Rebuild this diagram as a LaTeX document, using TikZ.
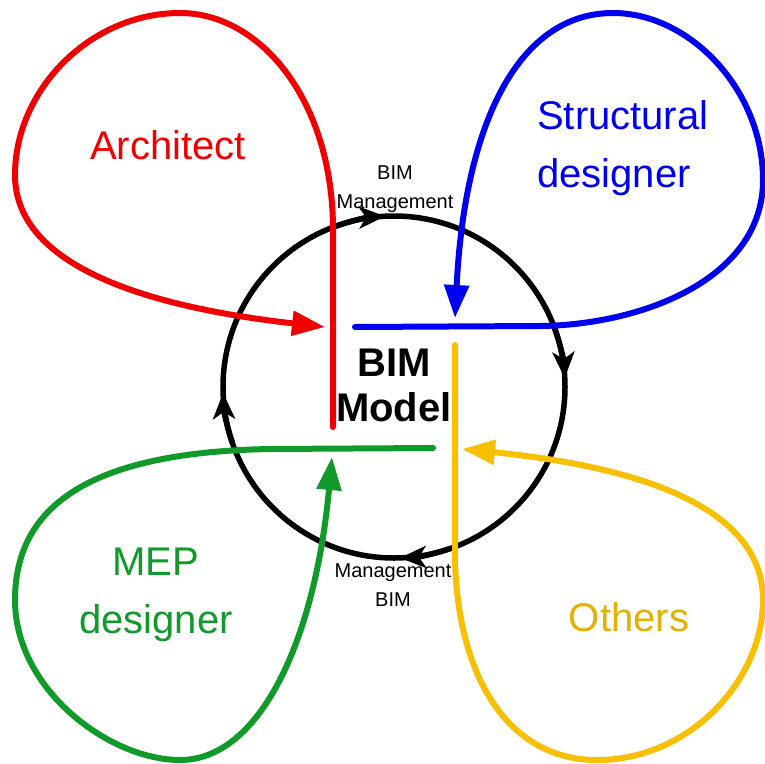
\documentclass[tikz,border=0pt]{standalone}
\usepackage{fontspec}
\setmainfont{Liberation Sans}
\usetikzlibrary{arrows.meta}
\definecolor{cred}{HTML}{F00000}
\definecolor{cblue}{HTML}{0000F0}
\definecolor{cgreen}{HTML}{109A2A}
\definecolor{cyel}{HTML}{F8C000}
\begin{document}
\begin{tikzpicture}[x=1pt,y=-1pt,
  loopline/.style={line width=6pt,line cap=round,-{Triangle[length=33pt,width=24pt]}},
  cyc/.style={line width=5.5pt,-{Stealth[length=26pt,width=22pt,inset=7pt]}},
  biglbl/.style={font=\fontsize{40}{58}\selectfont,inner sep=0pt},
  smalllbl/.style={font=\fontsize{20}{29}\selectfont,inner sep=0pt,align=center}]
\useasboundingbox (0,0) rectangle (765,763);
\fill[white] (0,0) rectangle (765,763);
\coordinate (c) at (394,387);
% cycle circle
\draw[line width=5.5pt] (c) circle (171);
\draw[cyc] ([shift={(250:171)}]c) arc[start angle=250, end angle=267, radius=171];
\draw[cyc] ([shift={(340:171)}]c) arc[start angle=340, end angle=357, radius=171];
\draw[cyc] ([shift={(71:171)}]c) arc[start angle=71, end angle=88, radius=171];
\draw[cyc] ([shift={(161:171)}]c) arc[start angle=161, end angle=178, radius=171];
% Architect (red)
\coordinate (rB) at (333,427);
\coordinate (rT) at (325,327);
\draw[loopline,cred] (rB) -- (333,230) .. controls (333,100) and (260,13) .. (180,13)
  .. controls (90,13) and (15,90) .. (15,175)
  .. controls (15,260) and (130,305) .. (rT);
% Structural (blue)
\coordinate (bS) at (355,327);
\coordinate (bT) at (455,318);
\draw[loopline,cblue] (bS) -- (540,326) .. controls (640,325) and (763,280) .. (763,180)
  .. controls (763,90) and (690,13) .. (613,13)
  .. controls (520,13) and (465,120) .. (bT);
% Others (yellow)
\coordinate (yS) at (455,345);
\coordinate (yT) at (462,449);
\draw[loopline,cyel] (yS) -- (455,560) .. controls (458,680) and (510,760) .. (597,760)
  .. controls (690,760) and (763,680) .. (763,600)
  .. controls (763,500) and (620,465) .. (yT);
% MEP (green)
\coordinate (gS) at (433,448);
\coordinate (gT) at (332,457);
\draw[loopline,cgreen] (gS) -- (270,449) .. controls (100,452) and (15,500) .. (15,600)
  .. controls (15,690) and (110,760) .. (180,760)
  .. controls (260,760) and (315,640) .. (gT);
% labels
\node[biglbl,text=cred] (arch) at (168,145) {Architect};
\node[biglbl,text=cblue,align=left,anchor=west] (struct) at (537,148) {Structural\\designer};
\node[biglbl,text=cgreen,align=center] (mep) at (156,595) {MEP\\designer};
\node[biglbl,text=cyel!92!black] (oth) at (629,617) {Others};
\node[font=\fontsize{40}{45}\selectfont\bfseries,inner sep=0pt,align=center] (model) at (394,385) {BIM\\Model};
\node[smalllbl] (mtop) at (395,189) {BIM\\Management};
\node[smalllbl] (mbot) at (393,585) {Management\\BIM};
\end{tikzpicture}
\end{document}
